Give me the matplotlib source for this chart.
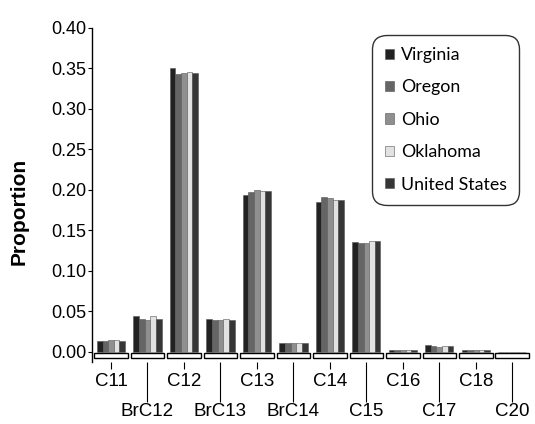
import matplotlib.pyplot as plt
import numpy as np

plt.rcParams['font.family'] = ['Liberation Sans', 'DejaVu Sans']

# Categories (alkyl chain classes)
categories = ['C11', 'BrC12', 'C12', 'BrC13', 'C13', 'BrC14',
              'C14', 'C15', 'C16', 'C17', 'C18', 'C20']
states = ['Virginia', 'Oregon', 'Ohio', 'Oklahoma', 'United States']

virginia = [0.014, 0.045, 0.350, 0.041, 0.194, 0.011, 0.185, 0.136, 0.002, 0.008, 0.002, 0.000]
oregon   = [0.014, 0.041, 0.343, 0.040, 0.197, 0.011, 0.191, 0.134, 0.002, 0.007, 0.002, 0.000]
ohio     = [0.015, 0.040, 0.345, 0.039, 0.200, 0.011, 0.190, 0.135, 0.002, 0.006, 0.003, 0.000]
oklahoma = [0.015, 0.044, 0.346, 0.041, 0.199, 0.011, 0.188, 0.137, 0.002, 0.007, 0.003, 0.000]
us       = [0.014, 0.041, 0.344, 0.040, 0.199, 0.011, 0.188, 0.137, 0.002, 0.007, 0.002, 0.000]

series = [virginia, oregon, ohio, oklahoma, us]
colors = ['#222222', '#656565', '#8f8f8f', '#e2e2e2', '#363636']

fig = plt.figure(figsize=(5.35, 4.24), dpi=100)
ax = fig.add_axes([0.172, 0.147, 0.823, 0.787])

x = np.arange(len(categories))
bw = 0.155
for i, (vals, c) in enumerate(zip(series, colors)):
    ax.bar(x + (i - 2) * bw, vals, width=bw, color=c, edgecolor='#555555',
           linewidth=0.4, label=states[i], zorder=3)

# floor slabs under each category
ax.bar(x, [0.007] * len(x), bottom=-0.008, width=0.92, color='white',
       edgecolor='black', linewidth=1.0, zorder=2)

ax.set_xlim(-0.52, 11.55)
ax.set_ylim(-0.012, 0.40)
ax.set_yticks(np.arange(0, 0.401, 0.05))
ax.set_yticklabels([f'{v:.2f}' for v in np.arange(0, 0.401, 0.05)], fontsize=13)

# two rows of category labels
ax.set_xticks(x[::2])
ax.set_xticklabels(categories[::2], fontsize=13.5)
ax.set_xticks(x[1::2], minor=True)
ax.set_xticklabels(categories[1::2], minor=True, fontsize=13.5)
ax.tick_params(axis='x', which='major', length=5, width=0.8, pad=3)
ax.tick_params(axis='x', which='minor', length=29, width=0.8, pad=1)
ax.tick_params(axis='y', length=3, width=0.8, pad=1)

for s in ['top', 'right', 'bottom']:
    ax.spines[s].set_visible(False)
ax.spines['left'].set_linewidth(1.0)

ax.set_ylabel('Proportion', fontsize=15, fontweight='bold')
ax.yaxis.set_label_coords(-0.145, 0.45)

leg = ax.legend(loc='upper left', bbox_to_anchor=(0.637, 0.98), borderaxespad=0,
                prop={'family': 'Lato', 'size': 12.8}, handlelength=0.5,
                handleheight=0.5, handletextpad=0.4, labelspacing=0.92,
                fancybox=True, frameon=True, edgecolor='black',
                borderpad=0.7)
leg.get_frame().set_linewidth(1.0)
leg.get_frame().set_boxstyle('round,pad=0,rounding_size=0.8')

fig.savefig('out.png', dpi=100)
